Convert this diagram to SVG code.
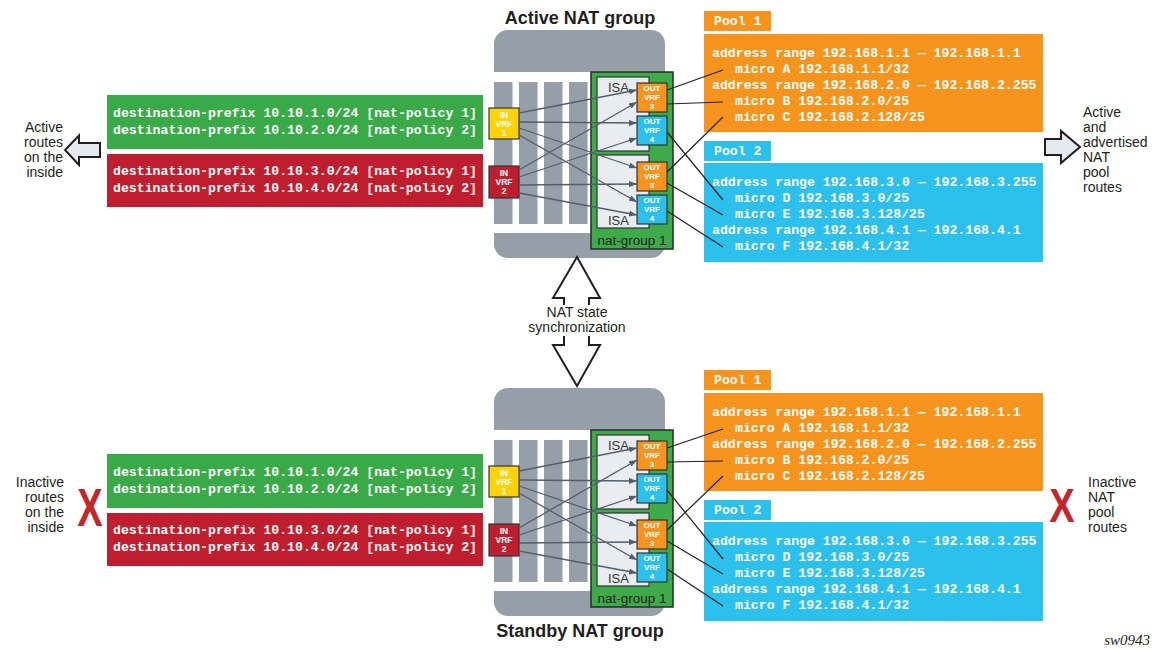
<svg xmlns="http://www.w3.org/2000/svg" width="1161" height="649" viewBox="0 0 1161 649">
<defs>
<style>
.sans{font-family:"Liberation Sans",Arial,sans-serif;fill:#231f20}
.title{font-family:"Liberation Sans",Arial,sans-serif;font-weight:bold;font-size:18px;fill:#231f20;text-anchor:middle}
.mono{font-family:"Liberation Mono","Courier New",monospace;font-weight:bold;font-size:13.2px;fill:#fff}
.vrf{font-family:"Liberation Sans",Arial,sans-serif;font-weight:bold;font-size:8.5px;fill:#fff;text-anchor:middle}
.ovrf{font-family:"Liberation Sans",Arial,sans-serif;font-weight:bold;font-size:8px;fill:#fff;text-anchor:middle}
.body{fill:#969ea8}
.win{fill:#fff}
.ng{fill:#3dab4a;stroke:#2a2a2a;stroke-width:1.5}
.isa{fill:#e9edf1;stroke:#333;stroke-width:1.2}
.isat{font-family:"Liberation Sans",Arial,sans-serif;font-size:13px;fill:#333}
.ngt{font-family:"Liberation Sans",Arial,sans-serif;font-size:13.5px;fill:#1d1d1d;text-anchor:middle}
.box{stroke:#333;stroke-width:1.2}
.c-or{fill:#f7941d}
.c-bl{fill:#2cc0ed}
.c-ye{fill:#ffd200}
.c-rd{fill:#be1e2d}
.c-gr{fill:#3aaa49}
.gl{stroke:#535e6b;stroke-width:1.3;fill:none;marker-end:url(#ah)}
.bl{stroke:#231f20;stroke-width:1.2;fill:none}
.bigarrow{stroke:#231f20;stroke-width:2;stroke-linejoin:miter}
.xmark{font-family:"Liberation Sans",Arial,sans-serif;font-weight:bold;font-size:53px;fill:#c1272d;text-anchor:middle}
</style>
<marker id="ah" markerWidth="8" markerHeight="6" refX="8" refY="3" orient="auto" markerUnits="userSpaceOnUse">
<path d="M0,0 L8,3 L0,6 z" fill="#535e6b"/>
</marker>
</defs>
<rect width="1161" height="649" fill="#fff"/>

<text id="title-active" class="title" x="580" y="24">Active NAT group</text>
<text id="title-standby" class="title" x="580" y="637">Standby NAT group</text>

<g id="prefixes-active">
<rect class="c-gr" x="107" y="95" width="376" height="54"/>
<text class="mono" x="113" y="117">destination-prefix 10.10.1.0/24 [nat-policy 1]</text>
<text class="mono" x="113" y="134">destination-prefix 10.10.2.0/24 [nat-policy 2]</text>
<rect class="c-rd" x="107" y="154" width="376" height="53"/>
<text class="mono" x="113" y="175">destination-prefix 10.10.3.0/24 [nat-policy 1]</text>
<text class="mono" x="113" y="192">destination-prefix 10.10.4.0/24 [nat-policy 2]</text>
</g>

<g id="router-active">
<rect class="body" x="494" y="30" width="171" height="228" rx="14"/>
<rect class="win" x="494" y="72" width="97" height="161"/>
<rect class="body" x="494" y="82" width="18.5" height="142"/>
<rect class="body" x="519" y="82" width="18.5" height="142"/>
<rect class="body" x="544" y="82" width="18.5" height="142"/>
<rect class="body" x="569" y="82" width="18.5" height="142"/>
<rect class="ng" x="591" y="72" width="82" height="177"/>
<rect class="isa" x="597" y="77" width="52" height="74"/>
<rect class="isa" x="597" y="155" width="52" height="73"/>
<text class="isat" x="608" y="92">ISA</text>
<text class="isat" x="608" y="225">ISA</text>
<text class="ngt" x="632" y="245">nat-group 1</text>
</g>

<g id="in-vrf1-active">
<rect class="box c-ye" x="489" y="108" width="30" height="31"/>
<text class="vrf" x="504" y="118">IN</text><text class="vrf" x="504" y="127">VRF</text><text class="vrf" x="504" y="136">1</text>
</g>
<g id="in-vrf2-active">
<rect class="box c-rd" x="489" y="166" width="30" height="32"/>
<text class="vrf" x="504" y="176">IN</text><text class="vrf" x="504" y="185">VRF</text><text class="vrf" x="504" y="194">2</text>
</g>
<g id="out-vrf3a-active">
<rect class="box c-or" x="637" y="83" width="30" height="29"/>
<text class="ovrf" x="652" y="91.3">OUT</text><text class="ovrf" x="652" y="100">VRF</text><text class="ovrf" x="652" y="108.7">3</text>
</g>
<g id="out-vrf4a-active">
<rect class="box c-bl" x="637" y="116" width="30" height="29"/>
<text class="ovrf" x="652" y="124.3">OUT</text><text class="ovrf" x="652" y="133">VRF</text><text class="ovrf" x="652" y="141.7">4</text>
</g>
<g id="out-vrf3b-active">
<rect class="box c-or" x="637" y="162" width="30" height="29"/>
<text class="ovrf" x="652" y="170.3">OUT</text><text class="ovrf" x="652" y="179">VRF</text><text class="ovrf" x="652" y="187.7">3</text>
</g>
<g id="out-vrf4b-active">
<rect class="box c-bl" x="637" y="195" width="30" height="29"/>
<text class="ovrf" x="652" y="203.3">OUT</text><text class="ovrf" x="652" y="212">VRF</text><text class="ovrf" x="652" y="220.7">4</text>
</g>

<g id="pool1-active">
<rect class="c-or" x="704" y="11" width="67" height="20"/>
<text class="mono" x="714" y="25">Pool 1</text>
<rect class="c-or" x="704" y="34" width="339" height="98"/>
<text class="mono" x="712" y="57">address range 192.168.1.1 — 192.168.1.1</text>
<text class="mono" x="735" y="73">micro A 192.168.1.1/32</text>
<text class="mono" x="712" y="89">address range 192.168.2.0 — 192.168.2.255</text>
<text class="mono" x="735" y="105">micro B 192.168.2.0/25</text>
<text class="mono" x="735" y="121">micro C 192.168.2.128/25</text>
</g>
<g id="pool2-active">
<rect class="c-bl" x="704" y="141" width="67" height="20"/>
<text class="mono" x="714" y="155">Pool 2</text>
<rect class="c-bl" x="704" y="163" width="339" height="99"/>
<text class="mono" x="712" y="186">address range 192.168.3.0 — 192.168.3.255</text>
<text class="mono" x="735" y="202">micro D 192.168.3.0/25</text>
<text class="mono" x="735" y="218">micro E 192.168.3.128/25</text>
<text class="mono" x="712" y="234">address range 192.168.4.1 — 192.168.4.1</text>
<text class="mono" x="735" y="250">micro F 192.168.4.1/32</text>
</g>

<g id="connectors-active">
<line class="gl" x1="519" y1="113" x2="637" y2="90"/>
<line class="gl" x1="519" y1="122" x2="637" y2="123"/>
<line class="gl" x1="519" y1="128" x2="637" y2="168"/>
<line class="gl" x1="519" y1="135" x2="637" y2="202"/>
<line class="gl" x1="519" y1="170" x2="637" y2="102"/>
<line class="gl" x1="519" y1="177" x2="637" y2="138"/>
<line class="gl" x1="519" y1="185" x2="637" y2="184"/>
<line class="gl" x1="519" y1="193" x2="637" y2="215"/>
<line class="bl" x1="667" y1="90" x2="723" y2="70"/>
<line class="bl" x1="667" y1="104" x2="723" y2="102"/>
<line class="bl" x1="667" y1="132" x2="723" y2="200"/>
<line class="bl" x1="667" y1="172" x2="723" y2="117"/>
<line class="bl" x1="667" y1="183" x2="723" y2="215"/>
<line class="bl" x1="667" y1="211" x2="723" y2="247"/>
</g>

<g id="label-active-inside">
<polygon class="bigarrow" fill="#e4eaf0" points="65,150 79,135.5 79,143 100,143 100,157 79,157 79,165"/>
<text class="sans" font-size="14" text-anchor="end" x="63" y="132">Active</text>
<text class="sans" font-size="14" text-anchor="end" x="63" y="147">routes</text>
<text class="sans" font-size="14" text-anchor="end" x="63" y="162">on the</text>
<text class="sans" font-size="14" text-anchor="end" x="63" y="177">inside</text>
</g>
<g id="label-active-pool">
<polygon class="bigarrow" fill="#e4eaf0" points="1045,139 1061,139 1061,131 1080,147 1061,163 1061,155 1045,155"/>
<text class="sans" font-size="14" x="1083" y="117">Active</text>
<text class="sans" font-size="14" x="1083" y="132">and</text>
<text class="sans" font-size="14" x="1083" y="147">advertised</text>
<text class="sans" font-size="14" x="1083" y="162">NAT</text>
<text class="sans" font-size="14" x="1083" y="177">pool</text>
<text class="sans" font-size="14" x="1083" y="192">routes</text>
</g>

<g id="sync">
<polygon class="bigarrow" fill="#fff" points="577,257 600,298 589,298 589,345 600,345 577,386 553,345 564,345 564,298 553,298"/>
<rect x="528" y="305" width="98" height="31" fill="#fff"/>
<text class="sans" font-size="14" text-anchor="middle" x="577" y="317">NAT state</text>
<text class="sans" font-size="14" text-anchor="middle" x="577" y="332">synchronization</text>
</g>

<g id="prefixes-standby" transform="translate(0,359)">
<rect class="c-gr" x="107" y="95" width="376" height="54"/>
<text class="mono" x="113" y="117">destination-prefix 10.10.1.0/24 [nat-policy 1]</text>
<text class="mono" x="113" y="134">destination-prefix 10.10.2.0/24 [nat-policy 2]</text>
<rect class="c-rd" x="107" y="154" width="376" height="53"/>
<text class="mono" x="113" y="175">destination-prefix 10.10.3.0/24 [nat-policy 1]</text>
<text class="mono" x="113" y="192">destination-prefix 10.10.4.0/24 [nat-policy 2]</text>
</g>

<g id="router-standby" transform="translate(0,358)">
<rect class="body" x="494" y="30" width="171" height="228" rx="14"/>
<rect class="win" x="494" y="72" width="97" height="161"/>
<rect class="body" x="494" y="82" width="18.5" height="142"/>
<rect class="body" x="519" y="82" width="18.5" height="142"/>
<rect class="body" x="544" y="82" width="18.5" height="142"/>
<rect class="body" x="569" y="82" width="18.5" height="142"/>
<rect class="ng" x="591" y="72" width="82" height="177"/>
<rect class="isa" x="597" y="77" width="52" height="74"/>
<rect class="isa" x="597" y="155" width="52" height="73"/>
<text class="isat" x="608" y="92">ISA</text>
<text class="isat" x="608" y="225">ISA</text>
<text class="ngt" x="632" y="245">nat-group 1</text>
</g>

<g id="in-vrf1-standby" transform="translate(0,358)">
<rect class="box c-ye" x="489" y="108" width="30" height="31"/>
<text class="vrf" x="504" y="118">IN</text><text class="vrf" x="504" y="127">VRF</text><text class="vrf" x="504" y="136">1</text>
</g>
<g id="in-vrf2-standby" transform="translate(0,358)">
<rect class="box c-rd" x="489" y="166" width="30" height="32"/>
<text class="vrf" x="504" y="176">IN</text><text class="vrf" x="504" y="185">VRF</text><text class="vrf" x="504" y="194">2</text>
</g>
<g id="out-vrf3a-standby" transform="translate(0,358)">
<rect class="box c-or" x="637" y="83" width="30" height="29"/>
<text class="ovrf" x="652" y="91.3">OUT</text><text class="ovrf" x="652" y="100">VRF</text><text class="ovrf" x="652" y="108.7">3</text>
</g>
<g id="out-vrf4a-standby" transform="translate(0,358)">
<rect class="box c-bl" x="637" y="116" width="30" height="29"/>
<text class="ovrf" x="652" y="124.3">OUT</text><text class="ovrf" x="652" y="133">VRF</text><text class="ovrf" x="652" y="141.7">4</text>
</g>
<g id="out-vrf3b-standby" transform="translate(0,358)">
<rect class="box c-or" x="637" y="162" width="30" height="29"/>
<text class="ovrf" x="652" y="170.3">OUT</text><text class="ovrf" x="652" y="179">VRF</text><text class="ovrf" x="652" y="187.7">3</text>
</g>
<g id="out-vrf4b-standby" transform="translate(0,358)">
<rect class="box c-bl" x="637" y="195" width="30" height="29"/>
<text class="ovrf" x="652" y="203.3">OUT</text><text class="ovrf" x="652" y="212">VRF</text><text class="ovrf" x="652" y="220.7">4</text>
</g>

<g id="pool1-standby" transform="translate(0,359)">
<rect class="c-or" x="704" y="11" width="67" height="20"/>
<text class="mono" x="714" y="25">Pool 1</text>
<rect class="c-or" x="704" y="34" width="339" height="98"/>
<text class="mono" x="712" y="57">address range 192.168.1.1 — 192.168.1.1</text>
<text class="mono" x="735" y="73">micro A 192.168.1.1/32</text>
<text class="mono" x="712" y="89">address range 192.168.2.0 — 192.168.2.255</text>
<text class="mono" x="735" y="105">micro B 192.168.2.0/25</text>
<text class="mono" x="735" y="121">micro C 192.168.2.128/25</text>
</g>
<g id="pool2-standby" transform="translate(0,359)">
<rect class="c-bl" x="704" y="141" width="67" height="20"/>
<text class="mono" x="714" y="155">Pool 2</text>
<rect class="c-bl" x="704" y="163" width="339" height="99"/>
<text class="mono" x="712" y="186">address range 192.168.3.0 — 192.168.3.255</text>
<text class="mono" x="735" y="202">micro D 192.168.3.0/25</text>
<text class="mono" x="735" y="218">micro E 192.168.3.128/25</text>
<text class="mono" x="712" y="234">address range 192.168.4.1 — 192.168.4.1</text>
<text class="mono" x="735" y="250">micro F 192.168.4.1/32</text>
</g>

<g id="connectors-standby" transform="translate(0,358)">
<line class="gl" x1="519" y1="113" x2="637" y2="90"/>
<line class="gl" x1="519" y1="122" x2="637" y2="123"/>
<line class="gl" x1="519" y1="128" x2="637" y2="168"/>
<line class="gl" x1="519" y1="135" x2="637" y2="202"/>
<line class="gl" x1="519" y1="170" x2="637" y2="102"/>
<line class="gl" x1="519" y1="177" x2="637" y2="138"/>
<line class="gl" x1="519" y1="185" x2="637" y2="184"/>
<line class="gl" x1="519" y1="193" x2="637" y2="215"/>
<line class="bl" x1="667" y1="90" x2="723" y2="71"/>
<line class="bl" x1="667" y1="104" x2="723" y2="103"/>
<line class="bl" x1="667" y1="132" x2="723" y2="201"/>
<line class="bl" x1="667" y1="172" x2="723" y2="118"/>
<line class="bl" x1="667" y1="183" x2="723" y2="216"/>
<line class="bl" x1="667" y1="211" x2="723" y2="248"/>
</g>

<g id="label-standby-inside">
<text class="sans" font-size="14" text-anchor="end" x="64" y="487">Inactive</text>
<text class="sans" font-size="14" text-anchor="end" x="64" y="502">routes</text>
<text class="sans" font-size="14" text-anchor="end" x="64" y="517">on the</text>
<text class="sans" font-size="14" text-anchor="end" x="64" y="532">inside</text>
<text class="xmark" transform="translate(90,526) scale(0.72,1)" x="0" y="0">X</text>
</g>
<g id="label-standby-pool">
<text class="xmark" transform="translate(1062,522) scale(0.72,0.92)" x="0" y="0">X</text>
<text class="sans" font-size="14" x="1088" y="487">Inactive</text>
<text class="sans" font-size="14" x="1088" y="502">NAT</text>
<text class="sans" font-size="14" x="1088" y="517">pool</text>
<text class="sans" font-size="14" x="1088" y="532">routes</text>
</g>

<text id="figure-id" x="1150" y="645" text-anchor="end" font-family="'Liberation Serif','Times New Roman',serif" font-style="italic" font-size="15" fill="#231f20">sw0943</text>
</svg>
